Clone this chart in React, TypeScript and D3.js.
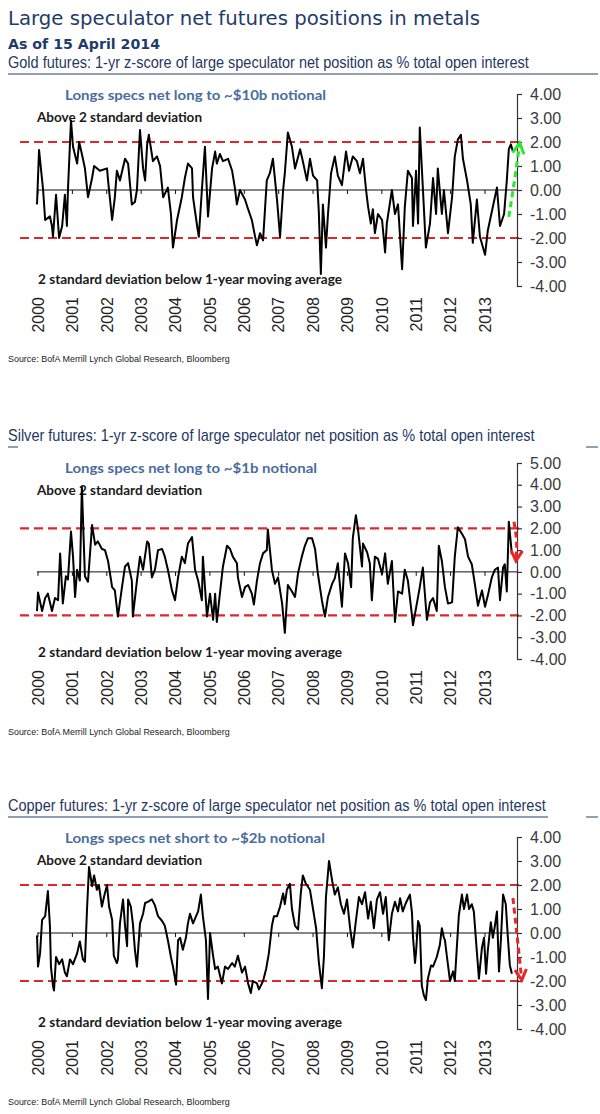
import * as d3 from "d3";
import { useEffect, useRef } from "react";

const mainTitle = "Large speculator net futures positions in metals";
const asOf = "As of 15 April 2014";
const sourceText = "Source: BofA Merrill Lynch Global Research, Bloomberg";
const aboveText = "Above 2 standard deviation";
const belowText = "2 standard deviation below 1-year moving average";

const yearLabels = ["2000", "2001", "2002", "2003", "2004", "2005", "2006", "2007", "2008", "2009", "2010", "2011", "2012", "2013"];

const goldTicks = [-4, -3, -2, -1, 0, 1, 2, 3, 4];
const silverTicks = [-4, -3, -2, -1, 0, 1, 2, 3, 4, 5];
const copperTicks = [-4, -3, -2, -1, 0, 1, 2, 3, 4];

const panelTitles = [
  "Gold futures: 1-yr z-score of large speculator net position as % total open interest",
  "Silver futures: 1-yr z-score of large speculator net position as % total open interest",
  "Copper futures: 1-yr z-score of large speculator net position as % total open interest",
];
const panelNotes = [
  "Longs specs net long to ~$10b notional",
  "Longs specs net long to ~$1b notional",
  "Longs specs net short to ~$2b notional",
];

// [decimal year, z-score]
const goldZ: [number, number][] = [
  [2000.0, -0.6], [2000.06, 1.67], [2000.18, 0.0], [2000.24, -1.25], [2000.38, -1.1], [2000.44, -1.5], [2000.47, -1.95],
  [2000.56, -0.2], [2000.65, -2.0], [2000.74, -1.5], [2000.82, -0.2], [2000.88, -1.5], [2000.91, 0.0], [2001.0, 2.9],
  [2001.06, 1.8], [2001.18, 1.1], [2001.24, 2.0], [2001.32, 1.5], [2001.41, 0.9], [2001.5, -0.3], [2001.62, 0.5],
  [2001.68, 1.0], [2001.85, 0.8], [2002.06, 0.9], [2002.09, 0.4], [2002.21, -1.25], [2002.29, -0.3], [2002.35, 0.8],
  [2002.44, 0.4], [2002.59, 1.3], [2002.68, 1.1], [2002.79, -0.6], [2002.88, -0.5], [2002.94, 0.0], [2003.03, 2.5],
  [2003.12, 0.9], [2003.18, 0.4], [2003.24, 1.9], [2003.29, 2.3], [2003.41, 1.2], [2003.53, 1.4], [2003.62, 1.0],
  [2003.71, -0.3], [2003.85, 0.1], [2003.94, -1.0], [2004.0, -2.4], [2004.12, -1.25], [2004.26, -0.3], [2004.35, 0.5],
  [2004.44, 1.1], [2004.56, 0.9], [2004.59, -0.3], [2004.71, -1.5], [2004.76, -1.95], [2004.85, 0.0], [2004.94, 1.8],
  [2005.03, -1.1], [2005.15, 0.9], [2005.24, 1.6], [2005.29, 1.1], [2005.38, 1.5], [2005.47, 1.2], [2005.62, 1.3],
  [2005.74, 0.8], [2005.82, 0.1], [2005.88, -0.6], [2005.97, 0.0], [2006.12, -0.4], [2006.21, -0.8], [2006.32, -1.25],
  [2006.41, -1.9], [2006.47, -2.3], [2006.56, -1.8], [2006.65, -2.1], [2006.76, 0.4], [2006.85, 0.7], [2006.94, 1.3],
  [2007.06, -0.4], [2007.15, -1.95], [2007.24, 0.0], [2007.29, 0.7], [2007.38, 2.4], [2007.5, 1.8], [2007.59, 0.9],
  [2007.74, 1.7], [2007.82, 1.2], [2007.94, 0.4], [2008.03, 1.3], [2008.12, 0.6], [2008.24, 0.4], [2008.29, -0.9],
  [2008.35, -3.5], [2008.41, -0.6], [2008.5, -2.4], [2008.56, -1.0], [2008.65, 0.7], [2008.76, 1.4], [2008.85, 0.6],
  [2008.97, 0.2], [2009.09, 1.6], [2009.18, 0.8], [2009.29, 1.4], [2009.41, 1.2], [2009.5, 0.7], [2009.59, 1.3],
  [2009.68, 0.0], [2009.74, -0.7], [2009.82, -1.4], [2009.88, -0.8], [2009.94, -1.8], [2010.03, -1.0], [2010.15, -1.25],
  [2010.24, -2.6], [2010.29, -1.4], [2010.44, 0.0], [2010.53, -1.0], [2010.62, -0.6], [2010.74, -3.3], [2010.82, -0.7],
  [2010.91, 0.8], [2011.03, 0.5], [2011.06, -1.5], [2011.15, 0.8], [2011.21, -1.4], [2011.26, 2.6], [2011.35, 0.1],
  [2011.44, -2.4], [2011.56, -1.4], [2011.65, 0.5], [2011.74, -1.0], [2011.79, 0.9], [2011.91, -1.0], [2011.97, 0.0],
  [2012.09, -1.8], [2012.21, -0.3], [2012.29, 1.4], [2012.38, 2.1], [2012.47, 2.3], [2012.53, 1.3], [2012.65, 0.4],
  [2012.76, -0.6], [2012.82, -2.2], [2012.94, -0.4], [2013.03, -1.95], [2013.18, -2.7], [2013.26, -1.7], [2013.41, -0.7],
  [2013.53, 0.1], [2013.62, -1.5], [2013.74, -1.0], [2013.82, 0.4], [2013.88, 1.7], [2013.94, 1.9], [2014.0, 1.6],
];

const silverZ: [number, number][] = [
  [2000.0, -1.8], [2000.03, -0.95], [2000.15, -1.8], [2000.24, -1.2], [2000.32, -1.0], [2000.44, -1.8], [2000.53, -1.2],
  [2000.62, -1.3], [2000.68, 0.85], [2000.76, -1.45], [2000.85, -0.2], [2000.91, -0.35], [2001.0, 1.85], [2001.06, 0.7],
  [2001.12, -1.15], [2001.18, 0.1], [2001.26, -0.4], [2001.32, 3.9], [2001.41, -0.2], [2001.5, -0.45], [2001.62, 2.15],
  [2001.71, 1.25], [2001.79, 1.4], [2001.91, 1.05], [2002.0, 1.0], [2002.09, 0.5], [2002.21, -0.7], [2002.29, -0.85],
  [2002.38, -2.05], [2002.5, -0.7], [2002.59, 0.25], [2002.68, 0.4], [2002.79, -0.4], [2002.82, -2.05], [2002.94, -0.4],
  [2003.03, 0.7], [2003.12, 0.1], [2003.24, 1.4], [2003.29, 1.3], [2003.38, -0.25], [2003.47, 0.1], [2003.56, 1.0],
  [2003.68, 1.05], [2003.76, 0.7], [2003.85, 0.1], [2003.97, -0.85], [2004.06, -1.3], [2004.15, -0.25], [2004.26, 0.7],
  [2004.35, 0.4], [2004.44, 1.3], [2004.56, 1.6], [2004.65, 0.1], [2004.74, -0.4], [2004.85, -1.3], [2004.88, 0.7],
  [2005.0, -2.05], [2005.09, -1.0], [2005.18, -2.2], [2005.24, -1.0], [2005.29, -2.3], [2005.38, -1.0], [2005.47, 0.25],
  [2005.59, 1.2], [2005.68, 1.05], [2005.76, 0.7], [2005.88, 0.4], [2005.91, -0.25], [2006.03, -1.15], [2006.12, -0.7],
  [2006.21, -0.6], [2006.32, -1.0], [2006.38, -1.5], [2006.47, -0.4], [2006.56, 0.4], [2006.65, 0.85], [2006.76, 1.0],
  [2006.79, 1.95], [2006.91, 0.1], [2007.0, -0.55], [2007.09, -0.25], [2007.21, -1.45], [2007.29, -2.8], [2007.38, -0.6],
  [2007.5, -0.9], [2007.59, -1.15], [2007.68, -0.05], [2007.79, 0.7], [2007.88, 1.2], [2007.97, 1.55], [2008.09, 1.55],
  [2008.18, 1.05], [2008.26, -0.05], [2008.38, -1.3], [2008.47, -2.05], [2008.56, -1.15], [2008.68, -0.55], [2008.76, -0.3],
  [2008.85, 0.4], [2008.97, -1.6], [2009.06, 0.85], [2009.15, 0.4], [2009.24, -0.7], [2009.29, 1.55], [2009.38, 2.6],
  [2009.44, 2.0], [2009.56, 0.25], [2009.59, 1.3], [2009.71, 0.9], [2009.79, 0.4], [2009.85, -1.3], [2009.94, 0.7],
  [2010.03, 0.6], [2010.15, -0.1], [2010.24, 0.85], [2010.32, -0.55], [2010.44, 0.5], [2010.53, -2.3], [2010.62, -0.9],
  [2010.74, -1.0], [2010.82, 0.1], [2010.91, -0.4], [2011.03, -2.0], [2011.06, -2.45], [2011.18, -1.4], [2011.26, -0.7],
  [2011.35, 0.2], [2011.47, -2.2], [2011.56, -1.4], [2011.65, -1.2], [2011.76, -1.8], [2011.82, 1.2], [2011.91, 0.5],
  [2012.0, -0.7], [2012.09, -1.45], [2012.21, -1.4], [2012.29, 0.7], [2012.38, 2.05], [2012.5, 1.75], [2012.59, 1.5],
  [2012.68, 0.7], [2012.79, 0.35], [2012.88, -0.55], [2012.97, -1.55], [2013.09, -0.85], [2013.18, -1.6], [2013.26, -1.1],
  [2013.38, -0.25], [2013.47, 0.1], [2013.56, 0.2], [2013.62, -1.3], [2013.71, 0.2], [2013.76, 0.35], [2013.82, -0.9],
  [2013.88, 2.3], [2013.97, 0.8],
];

const copperZ: [number, number][] = [
  [2000.0, -0.1], [2000.03, -1.4], [2000.09, -0.85], [2000.15, 0.55], [2000.24, 0.7], [2000.32, 1.75], [2000.38, 0.3],
  [2000.41, -1.4], [2000.47, -2.2], [2000.5, -2.4], [2000.56, -1.0], [2000.65, -1.3], [2000.74, -1.1], [2000.82, -1.65],
  [2000.88, -1.8], [2000.97, -1.1], [2001.06, -1.3], [2001.18, -0.85], [2001.26, -0.35], [2001.35, -1.1], [2001.41, -1.2],
  [2001.47, 0.95], [2001.53, 2.75], [2001.62, 1.95], [2001.68, 2.4], [2001.76, 1.8], [2001.82, 2.0], [2001.91, 1.1],
  [2001.97, 1.5], [2002.06, 2.0], [2002.12, 1.1], [2002.21, 0.55], [2002.26, -0.95], [2002.35, -1.25], [2002.38, -1.1],
  [2002.44, 0.4], [2002.53, 1.4], [2002.59, 0.3], [2002.65, -0.55], [2002.68, 1.4], [2002.76, 1.1], [2002.82, 0.4],
  [2002.88, -0.7], [2002.94, -1.4], [2003.03, 0.4], [2003.12, 0.8], [2003.18, 1.25], [2003.26, 1.3], [2003.38, 1.4],
  [2003.47, 1.15], [2003.56, 0.7], [2003.68, 0.5], [2003.76, 0.3], [2003.85, -0.3], [2003.94, -1.0], [2004.0, -1.4],
  [2004.09, -2.15], [2004.15, -0.3], [2004.21, -0.2], [2004.29, -0.7], [2004.38, -0.2], [2004.44, 0.4], [2004.5, 0.8],
  [2004.59, 0.4], [2004.68, 0.7], [2004.74, 0.9], [2004.82, 1.6], [2004.88, 0.7], [2004.97, -0.3], [2005.03, -2.75],
  [2005.09, 0.0], [2005.18, -0.95], [2005.24, -1.5], [2005.32, -1.4], [2005.44, -2.1], [2005.53, -1.4], [2005.62, -1.5],
  [2005.74, -1.25], [2005.82, -1.4], [2005.91, -0.95], [2006.03, -1.65], [2006.12, -1.4], [2006.21, -2.1], [2006.29, -2.5],
  [2006.35, -2.0], [2006.47, -2.1], [2006.53, -2.35], [2006.65, -2.0], [2006.74, -1.5], [2006.82, -0.85], [2006.91, 0.3],
  [2006.97, 0.7], [2007.06, 0.7], [2007.15, 1.1], [2007.24, 1.65], [2007.29, 1.2], [2007.35, 1.8], [2007.44, 2.05],
  [2007.5, 1.0], [2007.59, 0.3], [2007.68, 0.15], [2007.76, 1.65], [2007.82, 2.4], [2007.91, 2.05], [2008.03, 1.8],
  [2008.12, 1.0], [2008.21, 0.2], [2008.29, -1.2], [2008.38, -2.3], [2008.44, -1.0], [2008.5, 1.5], [2008.59, 3.0],
  [2008.68, 2.2], [2008.76, 1.6], [2008.85, 1.9], [2008.94, 1.2], [2009.03, 0.8], [2009.12, 1.4], [2009.21, 0.2],
  [2009.29, -0.6], [2009.38, 0.5], [2009.47, 1.5], [2009.56, 1.2], [2009.65, 1.7], [2009.74, 0.6], [2009.82, 1.3],
  [2009.91, 0.2], [2010.0, 1.4], [2010.09, 1.7], [2010.18, 0.8], [2010.26, 1.5], [2010.35, -0.3], [2010.44, 0.8],
  [2010.53, 1.3], [2010.62, 0.9], [2010.68, 1.45], [2010.76, 0.9], [2010.85, 1.25], [2010.97, 1.6], [2011.03, 0.85],
  [2011.06, -0.15], [2011.12, -1.25], [2011.15, -0.8], [2011.21, 0.5], [2011.26, 0.3], [2011.32, -2.2], [2011.38, -2.6],
  [2011.44, -2.8], [2011.5, -1.9], [2011.59, -1.35], [2011.65, -1.4], [2011.76, -1.0], [2011.85, -0.5], [2011.91, 0.2],
  [2011.97, -0.2], [2012.0, -0.3], [2012.06, -1.0], [2012.15, -2.0], [2012.24, -1.6], [2012.29, -2.0], [2012.35, -0.6],
  [2012.41, 0.75], [2012.5, 1.6], [2012.56, 1.0], [2012.65, 1.6], [2012.71, 1.0], [2012.79, 1.2], [2012.85, 0.9],
  [2012.94, -0.8], [2013.0, -1.9], [2013.09, -0.6], [2013.15, -0.2], [2013.21, -1.7], [2013.26, -0.75], [2013.35, 0.45],
  [2013.41, -0.2], [2013.47, 0.3], [2013.53, 0.9], [2013.59, -1.6], [2013.65, -0.2], [2013.71, 1.6], [2013.79, 1.2],
  [2013.85, -0.15], [2013.91, -1.35], [2013.97, -1.7],
];

// annotation arrows, in [year, z] space
const goldArrow: [number, number][] = [[2013.88, -1.12], [2014.05, 0.4], [2014.2, 1.96]];
const silverArrow: [number, number][] = [[2014.03, 2.3], [2014.13, 1.4], [2014.09, 0.5]];
const copperArrow: [number, number][] = [[2014.0, 1.46], [2014.13, -0.2], [2014.26, -1.96]];

const panels = [
  { title: panelTitles[0], titleW: 521, note: panelNotes[0], noteW: 261, series: goldZ, ticks: goldTicks, dy: 0, top: 94, arrow: goldArrow, arrowColor: "#2EE62E", underline: [[8, 598]] },
  { title: panelTitles[1], titleW: 527, note: panelNotes[1], noteW: 252, series: silverZ, ticks: silverTicks, dy: 373, top: 90, arrow: silverArrow, arrowColor: "#E8262A", underline: [[8, 18], [586, 598]] },
  { title: panelTitles[2], titleW: 538, note: panelNotes[2], noteW: 260, series: copperZ, ticks: copperTicks, dy: 743, top: 94, arrow: copperArrow, arrowColor: "#E8262A", underline: [[8, 548], [586, 598]] },
];

const ARIAL = "'Liberation Sans', Arial, sans-serif";
const CALIBRI = "Lato, 'Open Sans', sans-serif";

// squeeze a text horizontally to a target width (stands in for Arial Narrow)
const squeeze = (
  sel: d3.Selection<SVGTextElement, unknown, null, undefined>,
  x: number,
  y: number,
  w: number,
) => {
  const n = sel.node();
  const nat = n ? n.getComputedTextLength() : w;
  sel.attr("transform", `translate(${x},${y}) scale(${w / nat},1)`);
};

export default function App() {
  const svgRef = useRef<SVGSVGElement>(null);

  useEffect(() => {
    const svg = d3.select(svgRef.current);
    svg.selectAll("*").remove();
    svg.append("rect").attr("width", 600).attr("height", 1114).attr("fill", "#fff");

    // heading
    svg.append("text").attr("x", 8).attr("y", 25).text(mainTitle)
      .attr("font-family", "'DejaVu Sans', sans-serif").attr("font-size", 19)
      .attr("fill", "#1F3B6A").attr("textLength", 472).attr("lengthAdjust", "spacingAndGlyphs");
    svg.append("text").attr("x", 8).attr("y", 49).text(asOf)
      .attr("font-family", "'DejaVu Sans', sans-serif").attr("font-size", 14).attr("font-weight", "bold")
      .attr("fill", "#1F3B6A").attr("textLength", 152).attr("lengthAdjust", "spacingAndGlyphs");

    const x = d3.scaleLinear().domain([2000, 2014.12]).range([37, 517]);
    const yearX = d3.scalePoint<string>().domain(yearLabels).range([38, 485]);
    const axisX = 517;

    panels.forEach((p) => {
      const g = svg.append("g").attr("transform", `translate(0,${p.dy})`);
      const y = d3.scaleLinear().domain([p.ticks[0], p.ticks[p.ticks.length - 1]]).range([286, p.top]);

      // panel title + rule
      const t = g.append("text").text(p.title)
        .attr("font-family", ARIAL).attr("font-size", 16).attr("fill", "#1F3864");
      squeeze(t, 8, 68, p.titleW);
      p.underline.forEach(([a, b]) => {
        g.append("line").attr("x1", a).attr("x2", b).attr("y1", 74).attr("y2", 74)
          .attr("stroke", "#6F7F99").attr("stroke-width", 1.5);
      });

      // annotations
      g.append("text").attr("x", 65).attr("y", 100).text(p.note)
        .attr("font-family", CALIBRI).attr("font-size", 14).attr("font-weight", "bold")
        .attr("fill", "#4A6C9E").attr("textLength", p.noteW).attr("lengthAdjust", "spacingAndGlyphs");
      g.append("text").attr("x", 37).attr("y", 121.5).text(aboveText)
        .attr("font-family", CALIBRI).attr("font-size", 13).attr("font-weight", "bold")
        .attr("fill", "#1a1a1a").attr("textLength", 165).attr("lengthAdjust", "spacingAndGlyphs");
      g.append("text").attr("x", 38).attr("y", 284).text(belowText)
        .attr("font-family", CALIBRI).attr("font-size", 13.5).attr("font-weight", "bold")
        .attr("fill", "#1a1a1a").attr("textLength", 304).attr("lengthAdjust", "spacingAndGlyphs");

      // +/- 2 sd bands
      [2, -2].forEach((v) => {
        g.append("line").attr("x1", 20).attr("x2", 523).attr("y1", y(v)).attr("y2", y(v))
          .attr("stroke", "#E0262A").attr("stroke-width", 2.2).attr("stroke-dasharray", "9,5");
      });

      // zero line with year ticks
      g.append("line").attr("x1", x(2000)).attr("x2", axisX).attr("y1", y(0)).attr("y2", y(0))
        .attr("stroke", "#111").attr("stroke-width", 1);
      g.selectAll(".yt").data(yearLabels).enter().append("line")
        .attr("x1", (d) => yearX(d) ?? 0).attr("x2", (d) => yearX(d) ?? 0)
        .attr("y1", y(0)).attr("y2", y(0) + 4).attr("stroke", "#111").attr("stroke-width", 1);

      // series
      const line = d3.line<[number, number]>().x((d) => x(d[0])).y((d) => y(d[1]));
      g.append("path").attr("d", line(p.series)).attr("fill", "none")
        .attr("stroke", "#000").attr("stroke-width", 2).attr("stroke-linejoin", "round");

      // right axis
      const ax = g.append("g").attr("transform", `translate(${axisX},0)`)
        .call(d3.axisRight(y).tickValues(p.ticks).tickSize(5).tickSizeOuter(5).tickPadding(8)
          .tickFormat((d) => (d as number).toFixed(2)));
      ax.select(".domain").attr("stroke", "#333").attr("stroke-width", 1.2);
      ax.selectAll(".tick line").attr("stroke", "#333").attr("stroke-width", 1.2);
      ax.selectAll(".tick text").attr("font-family", ARIAL)
        .attr("font-size", 16).attr("fill", "#3a3a3a");

      // year labels
      g.selectAll(".yl").data(yearLabels).enter().append("text")
        .attr("transform", (d) => `translate(${yearX(d)},297) rotate(-90)`)
        .attr("text-anchor", "end").attr("dy", "0.36em").text((d) => d)
        .attr("font-family", ARIAL).attr("font-size", 16).attr("fill", "#222");

      // source
      const s = g.append("text").text(sourceText)
        .attr("font-family", ARIAL).attr("font-size", 9.5).attr("fill", "#222");
      squeeze(s, 8, 362, 222);

      // arrow
      const pts = p.arrow.map((d) => [x(d[0]), y(d[1])] as [number, number]);
      g.append("path").attr("d", d3.line().curve(d3.curveBasis)(pts)).attr("fill", "none")
        .attr("stroke", p.arrowColor).attr("stroke-width", 3).attr("stroke-dasharray", "6,4");
      const [tx, ty] = pts[pts.length - 1];
      const [px, py] = pts[pts.length - 2];
      const a = Math.atan2(ty - py, tx - px);
      const L = 12;
      const w1 = [tx - L * Math.cos(a - 0.5), ty - L * Math.sin(a - 0.5)];
      const w2 = [tx - L * Math.cos(a + 0.5), ty - L * Math.sin(a + 0.5)];
      g.append("path").attr("d", `M${w1[0]},${w1[1]}L${tx},${ty}L${w2[0]},${w2[1]}`)
        .attr("fill", "none").attr("stroke", p.arrowColor).attr("stroke-width", 3).attr("stroke-linejoin", "miter");
    });
  }, []);

  return (
    <svg ref={svgRef} width={600} height={1114}
      style={{ position: "absolute", left: 0, top: 0, display: "block" }} />
  );
}
